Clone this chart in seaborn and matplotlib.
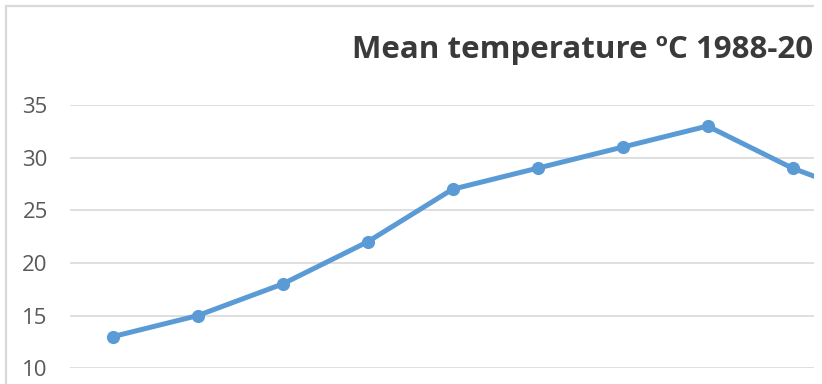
import matplotlib
matplotlib.use("Agg")
import matplotlib.pyplot as plt
import seaborn as sns
from matplotlib.patches import Rectangle

# Data
months = ["Jan", "Feb", "Mar", "Apr", "May", "Jun", "Jul", "Aug", "Sep", "Oct"]
mean_temp = [13, 15, 18, 22, 27, 29, 31, 33, 29, 26]
y_ticks = [10, 15, 20, 25, 30, 35]
title = "Mean temperature ºC 1988-20"

sns.set_theme(style="white")
plt.rcParams["font.family"] = ["Open Sans", "DejaVu Sans"]

W, H = 822, 384
fig = plt.figure(figsize=(W / 100, H / 100), dpi=100)
fig.patch.set_facecolor("white")

# plot area: starts at x=70px, 12 categories of 85px each; y from 10 (y=368px) to 35 (y=105px)
top_px, bottom_px = 105.0, 368.3
ax = fig.add_axes([70 / W, (H - bottom_px) / H, 12 * 85 / W, (bottom_px - top_px) / H])

sns.lineplot(x=months, y=mean_temp, ax=ax, color="#5B9BD5", linewidth=3.6,
             marker="o", markersize=9.5, markeredgewidth=0, sort=False,
             clip_on=False)

ax.set_xlim(-0.5, 11.5)
ax.set_ylim(10, 35)
ax.set_yticks(y_ticks)
ax.set_xticks([])
ax.set_xlabel("")
ax.set_ylabel("")
for s in ax.spines.values():
    s.set_visible(False)
ax.yaxis.grid(True, color="#D9D9D9", linewidth=1.2)
ax.set_axisbelow(True)
ax.tick_params(axis="y", length=0, pad=16, labelsize=16, labelcolor="#595959")

# title
fig.text(352 / W, (H - 58) / H, title, ha="left", va="baseline",
         fontsize=22.5, fontweight="bold", color="#3A3A3A")

# chart border (left and top visible)
fig.patches.append(Rectangle((6 / W, -0.5), 2.0, (H - 6) / H + 0.5,
                             transform=fig.transFigure, fill=False,
                             edgecolor="#D9D9D9", linewidth=1.6, zorder=0))

# crop at right edge
fig.patches.append(Rectangle((814 / W, 0), 1, 1, transform=fig.transFigure,
                             facecolor="white", edgecolor="none", zorder=10))

fig.savefig("out.png", dpi=100)
